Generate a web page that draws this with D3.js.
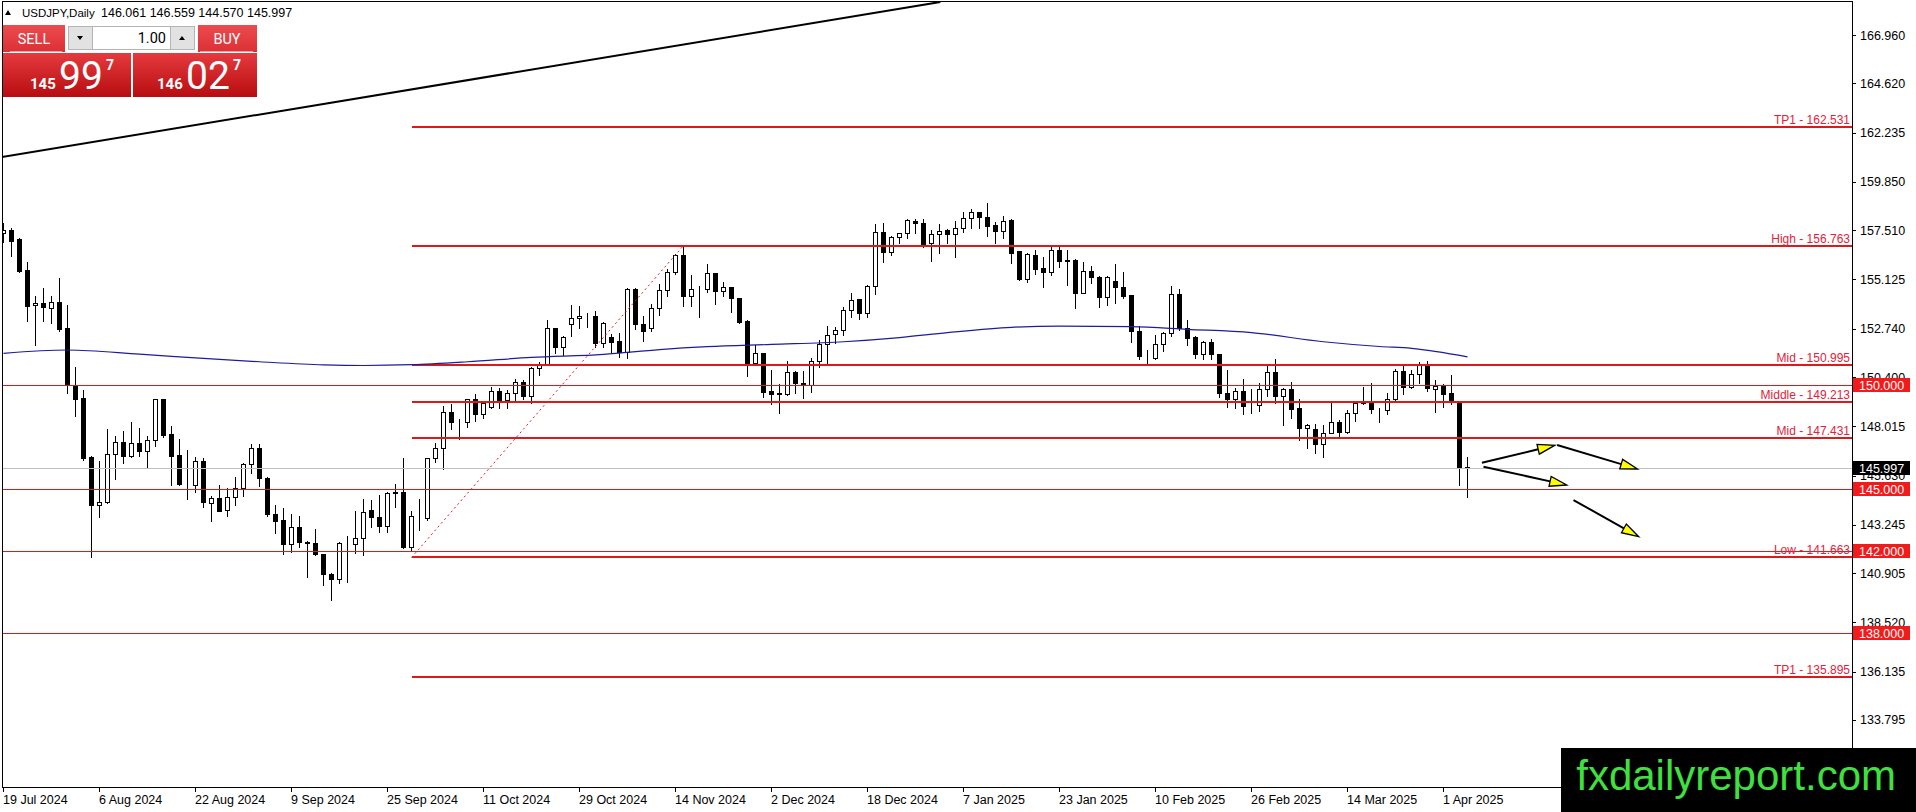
<!DOCTYPE html>
<html>
<head>
<meta charset="utf-8">
<script src="https://cdn.jsdelivr.net/npm/d3@7"></script>
<style>
  html, body { margin: 0; padding: 0; background: #fff; overflow: hidden; }
  svg { display: block; }
</style>
</head>
<body>
<div id="chart"></div>
<script>
const width = 1916, height = 812;

// daily bars, 19 Jul 2024 .. 4 Apr 2025
const barOpen = [
  157.37,157.52,157.07,155.58,153.87,153.97,153.73,154.02,152.76,150.01,
  149.37,146.54,144.19,144.34,146.66,147.24,146.59,147.19,146.83,147.35,
  149.34,147.64,146.62,145.24,145.17,146.33,144.29,144.53,143.96,144.58,
  145.01,146.17,146.95,145.50,143.75,143.48,142.30,143.15,142.42,142.35,
  141.82,140.86,140.60,142.38,142.30,142.62,143.96,143.61,143.20,144.80,
  144.83,142.18,143.62,143.56,146.46,146.95,148.72,148.21,148.21,149.32,
  148.60,148.96,149.74,149.29,149.64,150.17,149.50,150.82,151.03,152.76,
  151.84,152.97,153.24,153.35,153.35,152.03,152.32,152.14,151.60,154.65,
  152.97,152.76,153.73,154.61,155.47,156.31,154.34,154.66,154.65,155.42,
  154.56,154.74,154.21,153.11,151.09,151.55,149.72,149.60,149.58,150.63,
  150.10,150.01,151.19,152.00,152.47,152.68,153.65,154.16,153.48,154.82,
  157.43,156.44,157.16,157.36,157.97,157.84,156.87,157.31,157.52,157.31,
  157.60,158.08,158.38,158.13,157.76,157.48,158.00,156.50,155.15,156.31,
  155.66,155.50,156.55,156.05,156.07,154.48,155.53,155.26,154.29,155.06,
  154.74,154.37,152.63,151.44,151.34,151.98,152.52,154.41,152.76,152.32,
  151.50,152.08,151.50,149.64,149.32,149.72,149.07,149.07,149.80,150.63,
  149.50,149.80,148.89,147.95,147.88,147.14,147.70,148.21,147.75,148.67,
  149.13,149.17,148.79,148.80,149.32,150.69,149.90,150.53,151.03,149.80,
  149.96,149.61,149.24,146.061
];
const barHigh = [
  157.91,157.65,157.17,156.03,154.37,154.75,154.37,155.26,153.94,150.93,
  149.80,146.62,146.38,147.92,147.59,147.83,148.27,147.97,147.59,149.37,
  149.40,148.08,147.43,146.92,146.58,146.54,144.69,145.22,145.09,145.61,
  146.27,147.22,147.22,145.61,144.25,144.12,143.80,143.72,142.51,143.08,
  141.87,140.98,142.47,142.75,143.96,144.53,144.49,144.74,144.88,145.28,
  146.54,143.96,144.56,146.51,147.27,149.05,149.13,148.40,149.40,149.61,
  149.29,149.98,149.90,149.80,150.34,150.29,150.93,151.19,153.19,152.84,
  152.43,153.92,153.89,153.53,153.65,153.11,152.55,152.57,154.77,154.74,
  153.40,154.00,154.94,155.66,156.42,156.79,155.39,154.85,155.94,155.45,
  155.05,154.77,154.29,153.19,152.00,151.58,150.77,150.10,151.22,150.74,
  150.74,151.36,152.22,152.92,152.87,153.84,154.53,154.20,154.89,157.84,
  157.92,157.27,157.43,158.08,158.08,158.08,157.55,157.87,157.63,158.00,
  158.45,158.57,158.45,158.89,157.97,158.25,158.08,156.55,156.47,156.58,
  156.26,156.74,156.74,156.58,156.15,156.03,155.82,155.34,155.34,155.93,
  155.55,154.42,152.92,151.74,152.48,152.64,154.85,154.69,153.19,152.43,
  152.19,152.27,151.55,150.79,149.93,150.34,149.85,150.17,150.98,151.31,
  149.93,150.22,149.40,148.19,148.16,148.11,149.21,148.35,148.84,149.29,
  149.96,150.17,148.96,149.69,150.82,150.98,150.77,151.19,151.22,150.29,
  150.12,150.55,149.25,146.559
];
const barLow = [
  156.94,156.26,155.50,153.13,151.95,153.13,153.03,152.64,149.61,148.53,
  146.38,141.70,143.64,144.30,145.45,146.25,146.55,146.59,146.06,147.07,
  147.50,145.17,145.17,144.48,144.85,144.09,143.44,143.90,143.69,144.21,
  144.66,145.77,145.12,143.67,142.86,141.82,141.94,142.18,140.73,141.78,
  140.33,139.60,140.41,140.49,141.90,141.78,143.15,142.91,142.91,144.12,
  142.10,142.02,143.00,143.48,146.30,145.93,147.87,147.38,148.00,148.28,
  148.43,148.90,148.89,148.89,149.29,149.34,149.13,150.50,150.98,151.58,
  151.47,152.38,152.76,152.80,151.84,151.84,151.55,151.36,151.31,152.71,
  152.16,152.64,153.40,154.34,155.37,153.85,153.85,153.29,154.53,153.92,
  154.32,153.56,153.00,150.45,151.00,149.45,149.08,148.67,149.53,149.64,
  149.37,149.69,150.90,151.09,152.06,152.44,153.32,153.19,153.32,154.42,
  155.95,156.31,156.90,157.12,157.36,156.68,156.03,156.42,156.90,156.23,
  157.43,157.60,157.60,157.23,156.90,157.12,155.93,155.10,155.00,155.39,
  154.77,155.34,155.74,154.85,153.73,154.45,154.97,153.80,153.89,153.99,
  154.21,152.11,151.26,151.00,151.26,151.67,152.38,152.68,151.95,151.31,
  151.26,151.26,149.42,148.93,148.89,148.60,148.65,148.77,149.48,149.13,
  148.08,148.40,147.35,146.95,146.73,146.54,147.68,147.51,147.70,148.29,
  149.10,148.64,148.21,148.61,149.30,149.58,149.85,150.10,149.74,148.72,
  148.96,149.09,145.17,144.570
];
const barClose = [
  157.52,157.00,155.55,153.84,153.97,153.78,154.02,152.72,150.01,149.34,
  146.46,144.19,144.34,146.66,147.24,146.59,147.19,146.83,147.35,149.34,
  147.59,146.59,145.22,145.20,146.33,144.36,144.53,143.93,144.58,145.01,
  146.17,146.95,145.50,143.75,143.44,142.30,143.15,142.42,142.36,141.83,
  140.85,140.60,142.38,142.35,142.62,143.88,143.61,143.20,144.80,144.82,
  142.18,143.67,143.64,146.46,146.95,148.72,148.21,148.23,149.32,148.60,
  149.13,149.74,149.29,149.64,150.17,149.50,150.82,151.03,152.76,151.84,
  152.32,153.24,153.37,153.36,152.03,153.00,152.11,151.60,154.65,152.97,
  152.64,153.73,154.61,155.47,156.31,154.34,154.65,154.68,155.42,154.56,
  154.77,154.21,153.08,151.09,151.55,149.69,149.58,149.63,150.63,150.10,
  150.01,151.19,152.00,152.44,152.68,153.65,154.13,153.48,154.82,157.43,
  156.44,157.16,157.36,158.00,157.84,156.84,157.32,157.48,157.32,157.60,
  158.08,158.38,158.13,157.72,157.48,157.97,156.42,155.15,156.36,155.63,
  155.50,156.55,156.03,156.02,154.48,155.55,155.23,154.29,155.23,154.77,
  154.32,152.63,151.42,151.43,151.98,152.52,154.41,152.76,152.30,151.50,
  152.08,151.50,149.64,149.32,149.72,149.00,149.05,149.80,150.63,149.48,
  149.80,148.85,147.95,148.08,147.14,147.70,148.21,147.75,148.64,149.13,
  149.21,148.83,148.80,149.32,150.69,149.90,150.53,151.03,149.85,149.96,
  149.58,149.24,146.06,145.997
];

// moving average, sampled at bar positions
const maBars   = [0, 8, 17, 25, 32, 40, 45, 51, 58, 66, 75, 82, 88, 96, 105, 112, 118, 126, 132, 141, 148, 156, 165, 172, 176, 183];
const maValues = [151.55,151.71,151.51,151.30,151.14,150.99,150.96,151.00,151.14,151.35,151.50,151.73,151.87,151.98,152.11,152.31,152.55,152.81,152.87,152.84,152.71,152.55,152.11,151.88,151.79,151.38];

const dateLabels = ["19 Jul 2024","6 Aug 2024","22 Aug 2024","9 Sep 2024","25 Sep 2024","11 Oct 2024","29 Oct 2024",
  "14 Nov 2024","2 Dec 2024","18 Dec 2024","7 Jan 2025","23 Jan 2025","10 Feb 2025","26 Feb 2025","14 Mar 2025","1 Apr 2025"];
const dateLabelBars = [0,12,24,36,48,60,72,84,96,108,120,132,144,156,168,180];

const priceTicks = [166.960,164.620,162.235,159.850,157.510,155.125,152.740,150.400,148.015,145.630,143.245,140.905,138.520,136.135,133.795];

// fibo style levels, anchored at bar 51
const levelNames  = ["TP1","High","Mid","Middle","Mid","Low","TP1"];
const levelValues = [162.531,156.763,150.995,149.213,147.431,141.663,135.895];
const levelStartBar = 51;
const fiboFrom = [51, 141.663], fiboTo = [85, 156.763];

const roundLevels = [150.000, 145.000, 142.000, 138.000];
const bidPrice = 145.997;

const trendLine = [[-0.2, 161.05], [117.1, 168.56]];
const arrowLines = [
  [[184.8, 146.252], [193.9, 147.094]],
  [[194.2, 147.109], [204.25, 145.947]],
  [[185.0, 146.058], [195.4, 145.172]],
  [[196.25, 144.446], [204.4, 142.670]]
];

const priceTop = 168.56, priceBottom = 130.55;

const svg = d3.select("#chart").append("svg")
  .attr("width", width).attr("height", height)
  .style("font-family", "'Liberation Sans', Arial, sans-serif");

svg.append("rect").attr("width", width).attr("height", height).attr("fill", "#fff");

const plotRight = 1852, plotBottom = 787;
const x = d3.scaleLinear().domain([0, 231]).range([3.5, 1851.5]);
const y = d3.scaleLinear().domain([priceBottom, priceTop]).range([plotBottom, 2]);
const py = v => Math.round(y(v)) + 0.5;

const defs = svg.append("defs");
defs.append("clipPath").attr("id", "plotclip")
  .append("rect").attr("x", 2.5).attr("y", 1.5).attr("width", plotRight - 2.5).attr("height", plotBottom - 1.5);

function grad(id, top, bottom) {
  const g = defs.append("linearGradient").attr("id", id).attr("x1", 0).attr("y1", 0).attr("x2", 0).attr("y2", 1);
  g.append("stop").attr("offset", "0%").attr("stop-color", top);
  g.append("stop").attr("offset", "100%").attr("stop-color", bottom);
}
grad("btnGrad", "#ec4b4f", "#dc3035");
grad("priceGrad", "#e63b3e", "#b70c10");

const plot = svg.append("g").attr("clip-path", "url(#plotclip)");

// candles
const bars = d3.range(barOpen.length).map(i => ({ i, o: barOpen[i], h: barHigh[i], l: barLow[i], c: barClose[i] }));
const candles = plot.append("g").attr("shape-rendering", "crispEdges");
candles.selectAll("line").data(bars).join("line")
  .attr("x1", d => x(d.i)).attr("x2", d => x(d.i))
  .attr("y1", d => py(d.h)).attr("y2", d => py(d.l))
  .attr("stroke", "#000");
candles.selectAll("rect").data(bars).join("rect")
  .attr("x", d => x(d.i) - 2).attr("width", 4)
  .attr("y", d => py(Math.max(d.o, d.c)))
  .attr("height", d => py(Math.min(d.o, d.c)) - py(Math.max(d.o, d.c)))
  .attr("fill", d => d.c >= d.o ? "#fff" : "#000")
  .attr("stroke", "#000");

// bid line + round levels
const lines = plot.append("g").attr("shape-rendering", "crispEdges");
lines.append("line")
  .attr("x1", 2).attr("x2", plotRight).attr("y1", py(bidPrice)).attr("y2", py(bidPrice))
  .attr("stroke", "#c0c0c0");
lines.selectAll(".round").data(roundLevels).join("line").attr("class", "round")
  .attr("x1", 2).attr("x2", plotRight)
  .attr("y1", d => py(d)).attr("y2", d => py(d))
  .attr("stroke", "#dc1a1a");

// fibo levels
lines.selectAll(".lvl").data(levelValues).join("line").attr("class", "lvl")
  .attr("x1", x(levelStartBar)).attr("x2", plotRight)
  .attr("y1", d => Math.round(y(d))).attr("y2", d => Math.round(y(d)))
  .attr("stroke", "#dc1a1a").attr("stroke-width", 2);

plot.append("line")
  .attr("x1", x(fiboFrom[0])).attr("y1", y(fiboFrom[1]))
  .attr("x2", x(fiboTo[0])).attr("y2", y(fiboTo[1]))
  .attr("stroke", "#dc1a1a").attr("stroke-dasharray", "2,3");

plot.selectAll(".lvlText").data(levelValues).join("text").attr("class", "lvlText")
  .attr("x", plotRight - 2).attr("y", d => Math.round(y(d)) - 3)
  .attr("text-anchor", "end").attr("font-size", 12).attr("fill", "#e2213a")
  .text((d, i) => levelNames[i] + " - " + d.toFixed(3));

// moving average
plot.append("path")
  .datum(maBars.map((b, i) => [b, maValues[i]]))
  .attr("fill", "none").attr("stroke", "#1c1ca0").attr("stroke-width", 1.2)
  .attr("d", d3.line().x(d => x(d[0])).y(d => y(d[1])).curve(d3.curveMonotoneX));

// trend line
plot.append("line")
  .attr("x1", x(trendLine[0][0])).attr("y1", y(trendLine[0][1]))
  .attr("x2", x(trendLine[1][0])).attr("y2", y(trendLine[1][1]))
  .attr("stroke", "#000").attr("stroke-width", 2);

// arrows
arrowLines.forEach(a => {
  const x1 = x(a[0][0]), y1 = y(a[0][1]), x2 = x(a[1][0]), y2 = y(a[1][1]);
  const len = Math.hypot(x2 - x1, y2 - y1), ux = (x2 - x1) / len, uy = (y2 - y1) / len;
  const bx = x2 - 17 * ux, by = y2 - 17 * uy;
  plot.append("line").attr("x1", x1).attr("y1", y1).attr("x2", bx).attr("y2", by)
    .attr("stroke", "#000").attr("stroke-width", 2);
  plot.append("path")
    .attr("d", `M${x2},${y2}L${bx - 5 * uy},${by + 5 * ux}L${bx + 5 * uy},${by - 5 * ux}Z`)
    .attr("fill", "#ffff00").attr("stroke", "#000").attr("stroke-width", 1.3);
});

// frame
svg.append("rect").attr("x", 2.5).attr("y", 1.5).attr("width", plotRight - 2).attr("height", plotBottom - 1)
  .attr("fill", "none").attr("stroke", "#000").attr("shape-rendering", "crispEdges");

// price axis
const axisG = svg.append("g");
axisG.selectAll("line").data(priceTicks).join("line")
  .attr("x1", plotRight).attr("x2", plotRight + 4)
  .attr("y1", d => py(d)).attr("y2", d => py(d))
  .attr("stroke", "#000").attr("shape-rendering", "crispEdges");
axisG.selectAll("text").data(priceTicks).join("text")
  .attr("x", plotRight + 8).attr("y", d => y(d)).attr("dy", "0.36em")
  .attr("font-size", 12.5).attr("fill", "#000")
  .text(d => d.toFixed(3));

function priceBox(v, fill) {
  const yc = Math.round(y(v));
  svg.append("rect").attr("x", plotRight + 1).attr("y", yc - 7).attr("width", 57).attr("height", 14)
    .attr("fill", fill);
  svg.append("text").attr("x", plotRight + 7).attr("y", yc).attr("dy", "0.36em")
    .attr("font-size", 12.5).attr("fill", "#fff").text(v.toFixed(3));
}
roundLevels.forEach(v => priceBox(v, "#f21a1a"));
priceBox(bidPrice, "#000");

// date axis
const dateG = svg.append("g");
dateG.selectAll("line").data(dateLabelBars).join("line")
  .attr("x1", d => x(d)).attr("x2", d => x(d))
  .attr("y1", plotBottom).attr("y2", plotBottom + 5)
  .attr("stroke", "#000").attr("shape-rendering", "crispEdges");
dateG.selectAll("text").data(dateLabelBars).join("text")
  .attr("x", d => x(d) - 0.5).attr("y", plotBottom + 17)
  .attr("font-size", 12.5).attr("fill", "#000")
  .text((d, i) => dateLabels[i]);

// header
svg.append("path").attr("d", "M5,15L11,15L8,10Z").attr("fill", "#000");
svg.append("text").attr("x", 22).attr("y", 17).attr("font-size", 11.5).attr("fill", "#000").text("USDJPY,Daily");
svg.append("text").attr("x", 101).attr("y", 17).attr("font-size", 12.5).attr("fill", "#000")
  .text(barOpen[183].toFixed(3) + " " + barHigh[183].toFixed(3) + " " + barLow[183].toFixed(3) + " " + barClose[183].toFixed(3));

// trade panel
const panel = svg.append("g").style("font-family", "Roboto, 'Liberation Sans', sans-serif");
panel.append("rect").attr("x", 3).attr("y", 25).attr("width", 62).attr("height", 27).attr("fill", "url(#btnGrad)");
panel.append("rect").attr("x", 198).attr("y", 25).attr("width", 59).attr("height", 27).attr("fill", "url(#btnGrad)");
panel.append("line").attr("x1", 10).attr("x2", 62).attr("y1", 51.5).attr("y2", 51.5).attr("stroke", "#f2a0a0");
panel.append("line").attr("x1", 200).attr("x2", 253).attr("y1", 51.5).attr("y2", 51.5).attr("stroke", "#f2a0a0");
panel.append("text").attr("x", 34).attr("y", 44).attr("text-anchor", "middle").attr("font-size", 14.5).attr("fill", "#fff").text("SELL");
panel.append("text").attr("x", 227).attr("y", 44).attr("text-anchor", "middle").attr("font-size", 14.5).attr("fill", "#fff").text("BUY");
panel.append("rect").attr("x", 68.5).attr("y", 26.5).attr("width", 126).attr("height", 23).attr("fill", "#fff").attr("stroke", "#b4b4b4");
panel.append("rect").attr("x", 68.5).attr("y", 26.5).attr("width", 24).attr("height", 23).attr("fill", "#e2e2e2").attr("stroke", "#b4b4b4");
panel.append("rect").attr("x", 170.5).attr("y", 26.5).attr("width", 24).attr("height", 23).attr("fill", "#e2e2e2").attr("stroke", "#b4b4b4");
panel.append("path").attr("d", "M77,36L83,36L80,40Z").attr("fill", "#000");
panel.append("path").attr("d", "M179,40L185,40L182,36Z").attr("fill", "#000");
panel.append("text").attr("x", 166).attr("y", 43).attr("text-anchor", "end").attr("font-size", 14.5).attr("fill", "#000").text("1.00");

panel.append("rect").attr("x", 3).attr("y", 53).attr("width", 128).attr("height", 44).attr("fill", "url(#priceGrad)");
panel.append("rect").attr("x", 133).attr("y", 53).attr("width", 124).attr("height", 44).attr("fill", "url(#priceGrad)");

function quote(x0, big, mid, pip) {
  panel.append("text").attr("x", x0).attr("y", 89).attr("font-size", 15).attr("font-weight", "bold").attr("fill", "#fff").text(big);
  panel.append("text").attr("x", x0 + 29).attr("y", 89).attr("font-size", 39).attr("fill", "#fff").text(mid);
  panel.append("text").attr("x", x0 + 76).attr("y", 70).attr("font-size", 14).attr("font-weight", "bold").attr("fill", "#fff").text(pip);
}
quote(30, "145", "99", "7");
quote(157, "146", "02", "7");

// watermark
svg.append("rect").attr("x", 1561).attr("y", 748).attr("width", width - 1561).attr("height", height - 748).attr("fill", "#000");
svg.append("text").attr("x", 1896).attr("y", 790).attr("text-anchor", "end")
  .attr("font-size", 42).attr("fill", "#3fe03f").text("fxdailyreport.com");
</script>
</body>
</html>
